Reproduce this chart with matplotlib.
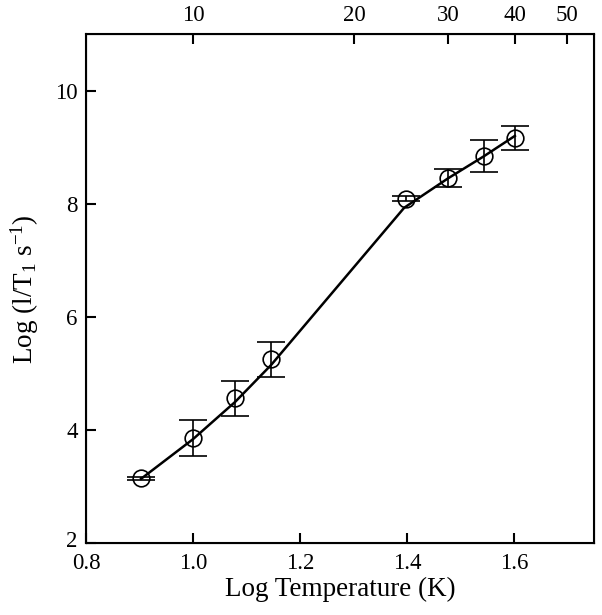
import numpy as np
import matplotlib
matplotlib.use("Agg")
from matplotlib import pyplot as plt
import matplotlib.transforms as mtransforms

plt.rcParams["font.family"] = ["Liberation Serif", "DejaVu Serif"]
plt.rcParams["mathtext.fontset"] = "custom"
plt.rcParams["mathtext.rm"] = "Liberation Serif"
plt.rcParams["mathtext.it"] = "Liberation Serif:italic"

## measured data (log T, log 1/T1) with error
log_t = [0.903, 1.0, 1.079, 1.146, 1.398, 1.477, 1.544, 1.602]
log_rate = [3.15, 3.86, 4.56, 5.25, 8.09, 8.45, 8.85, 9.16]
rate_err = [0.03, 0.32, 0.31, 0.31, 0.04, 0.16, 0.28, 0.21]

## fitted curve
fit_x = [0.903, 1.0, 1.079, 1.146, 1.395, 1.477, 1.544, 1.602]
fit_y = [3.14, 3.84, 4.50, 5.15, 7.93, 8.45, 8.84, 9.20]

top_temps = [10, 20, 30, 40, 50]

fig = plt.figure(figsize=(6.02, 6.15), dpi=100)
ax = fig.add_axes([0.1429, 0.1166, 0.8438, 0.828])

ax.plot(fit_x, fit_y, color="k", lw=1.8, zorder=2)
ax.errorbar(log_t, log_rate, yerr=rate_err, fmt="o", mfc="none", mec="k",
            ms=12, mew=1.2, ecolor="k", elinewidth=1.2, capsize=10,
            capthick=1.2, zorder=3)

ax.set_xlim(0.8, 1.75)
ax.set_ylim(2, 11)
ax.set_xticks([0.8, 1.0, 1.2, 1.4, 1.6])
ax.set_xticklabels(["0.8", "1.0", "1.2", "1.4", "1.6"])
ax.set_yticks([2, 4, 6, 8, 10])
ax.tick_params(direction="in", length=7, width=1.5, labelsize=16.5,
               top=False, right=False, pad=6)
ax.tick_params(axis="x", pad=7)
for sp in ax.spines.values():
    sp.set_linewidth(1.5)

## nudge lowest y label up a little so it clears "0.8"
lbl = ax.get_yticklabels()[0]
lbl.set_transform(lbl.get_transform() +
                  mtransforms.ScaledTranslation(0, 3 / 72, fig.dpi_scale_trans))

ax.set_xlabel("Log Temperature (K)", fontsize=19.5, labelpad=2)
ax.set_ylabel("Log (l/T$_1$ s$^{-1}$)", fontsize=19.5, labelpad=10)

ax2 = ax.twiny()
ax2.set_xlim(ax.get_xlim())
ax2.set_xticks(np.log10(top_temps))
ax2.set_xticklabels([str(t) for t in top_temps])
ax2.tick_params(direction="in", length=7, width=1.5, labelsize=16.5, pad=6)

fig.savefig("out.png", dpi=100)
